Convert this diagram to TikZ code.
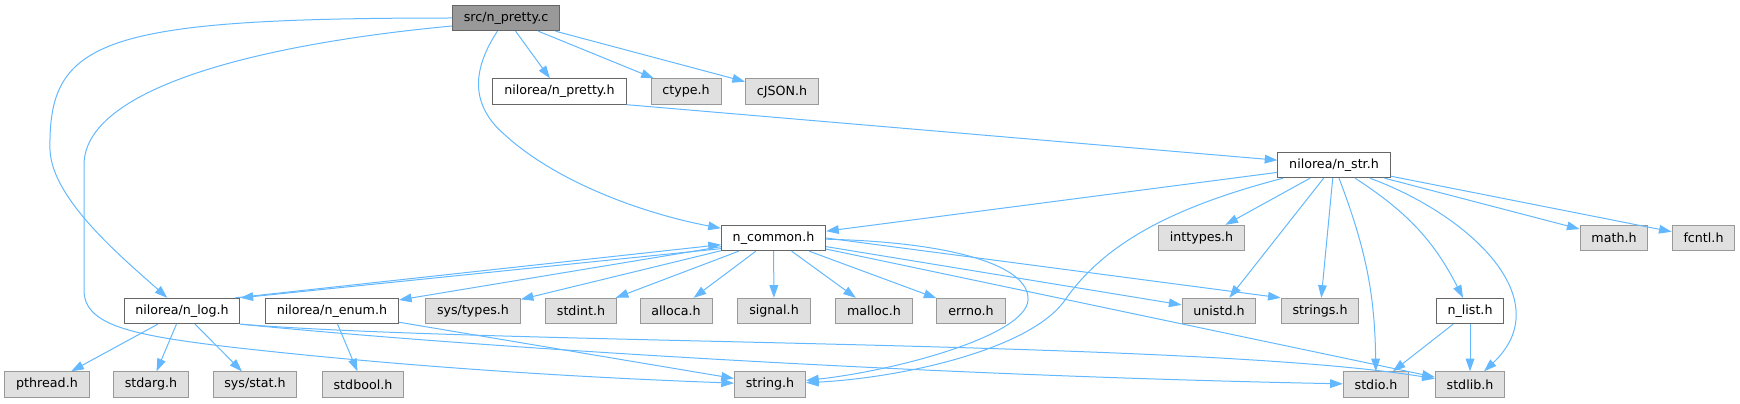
\documentclass[tikz,border=0pt]{standalone}
\usepackage{fontspec}
\setmainfont{DejaVu Sans}
\usepackage{tikz}
\usetikzlibrary{arrows.meta}
\definecolor{dxedge}{RGB}{99,184,255}
\definecolor{dxdark}{RGB}{102,102,102}
\definecolor{dxgrey}{RGB}{153,153,153}
\definecolor{dxlight}{RGB}{224,224,224}
\tikzstyle{header} = [rectangle, minimum height=19pt, inner xsep=8.5pt, text centered, draw=dxdark, fill=white, line width=0.75pt, font=\fontsize{9.5}{11}\selectfont]
\tikzstyle{external} = [header, draw=dxgrey, fill=dxlight]
\tikzstyle{source} = [header, fill=dxgrey]
\tikzstyle{arrow} = [line width=0.75pt, -{Triangle[length=9.5pt,width=6.5pt]}, color=dxedge]

\begin{document}
\begin{tikzpicture}[x=0.75pt,y=-0.75pt]
\useasboundingbox (0,0) rectangle (1740,403);
% rank 0 and 1
\node[source] (src) at (506,18) {src/n\_pretty.c};
\node[header] (npretty) at (559.5,91.5) {nilorea/n\_pretty.h};
\node[external] (ctype) at (686,91.5) {ctype.h};
\node[external] (cjson) at (782,91.5) {cJSON.h};
% rank 2 and 3
\node[header] (nstr) at (1334,165) {nilorea/n\_str.h};
\node[header] (ncommon) at (773.5,238) {n\_common.h};
\node[external] (inttypes) at (1201.5,238) {inttypes.h};
\node[external] (math) at (1614,238) {math.h};
\node[external] (fcntl) at (1703.5,238) {fcntl.h};
% rank 4
\node[header] (nlog) at (182,311) {nilorea/n\_log.h};
\node[header] (nenum) at (332,311) {nilorea/n\_enum.h};
\node[external] (systypes) at (473,311) {sys/types.h};
\node[external] (stdint) at (581,311) {stdint.h};
\node[external] (alloca) at (676,311) {alloca.h};
\node[external] (signal) at (774,311) {signal.h};
\node[external] (malloc) at (874,311) {malloc.h};
\node[external] (errno) at (971,311) {errno.h};
\node[external] (unistd) at (1219,311) {unistd.h};
\node[external] (strings) at (1320,311) {strings.h};
\node[header] (nlist) at (1470,311) {n\_list.h};
% rank 5
\node[external] (pthread) at (47,384.5) {pthread.h};
\node[external] (stdarg) at (151,384.5) {stdarg.h};
\node[external] (sysstat) at (255,384.5) {sys/stat.h};
\node[external] (stdbool) at (363,384.5) {stdbool.h};
\node[external] (string) at (770,384.5) {string.h};
\node[external] (stdio) at (1376,384.5) {stdio.h};
\node[external] (stdlib) at (1470,384.5) {stdlib.h};

% src/n_pretty.c
\draw[arrow] (src.west) .. controls (100,18) and (48,40) .. (50,150)
  .. controls (52,200) and (125,260) .. (nlog);
\draw[arrow] ([yshift=-6pt]src.west) .. controls (250,45) and (84,90) .. (84,165) -- (84,290)
  .. controls (84,325) and (130,335) .. (230,347) .. controls (450,372) and (650,380) .. (string);
\draw[arrow] (src) .. controls (472,70) and (470,105) .. (505,135)
  .. controls (560,185) and (650,215) .. (ncommon);
\draw[arrow] (src) -- (npretty);
\draw[arrow] (src) -- (ctype);
\draw[arrow] (src) -- (cjson);
\draw[arrow] (npretty.south east) -- (nstr);

% nilorea/n_str.h
\draw[arrow] (nstr) -- (ncommon);
\draw[arrow] (nstr) .. controls (1160,210) and (1100,250) .. (1065,300)
  .. controls (1030,350) and (900,378) .. (string);
\draw[arrow] (nstr) -- (inttypes);
\draw[arrow] (nstr) -- (unistd);
\draw[arrow] (nstr) -- (strings);
\draw[arrow] (nstr) to[bend left=10] (stdio);
\draw[arrow] (nstr) to[bend left=15] (nlist);
\draw[arrow] (nstr) .. controls (1470,215) and (1560,300) .. (stdlib);
\draw[arrow] (nstr) -- (math);
\draw[arrow] (nstr) -- (fcntl);

% n_common.h
\draw[arrow] ([xshift=-4pt]nlog.north east) -- ([yshift=-5pt]ncommon.west);
\draw[arrow] ([yshift=-8pt]ncommon.west) -- (nlog.north east);
\draw[arrow] (ncommon) -- (nenum);
\draw[arrow] (ncommon) -- (systypes);
\draw[arrow] (ncommon) -- (stdint);
\draw[arrow] (ncommon) -- (alloca);
\draw[arrow] (ncommon) -- (signal);
\draw[arrow] (ncommon) -- (malloc);
\draw[arrow] (ncommon) -- (errno);
\draw[arrow] (ncommon) -- (unistd);
\draw[arrow] (ncommon.east) -- (strings.north west);
\draw[arrow] (ncommon) -- (stdlib);
\draw[arrow] (ncommon) .. controls (950,242) and (1030,265) .. (1028,300)
  .. controls (1026,335) and (900,370) .. (string);

% nilorea/n_log.h, nilorea/n_enum.h, n_list.h
\draw[arrow] (nlog) -- (pthread);
\draw[arrow] (nlog) -- (stdarg);
\draw[arrow] (nlog) -- (sysstat);
\draw[arrow] (nlog.south east) .. controls (450,345) and (900,375) .. (stdio);
\draw[arrow] (nlog.south east) .. controls (500,345) and (1200,340) .. (stdlib);
\draw[arrow] (nenum) -- (stdbool);
\draw[arrow] (nenum) -- (string);
\draw[arrow] (nlist) -- (stdio);
\draw[arrow] (nlist) -- (stdlib);
\end{tikzpicture}
\end{document}
